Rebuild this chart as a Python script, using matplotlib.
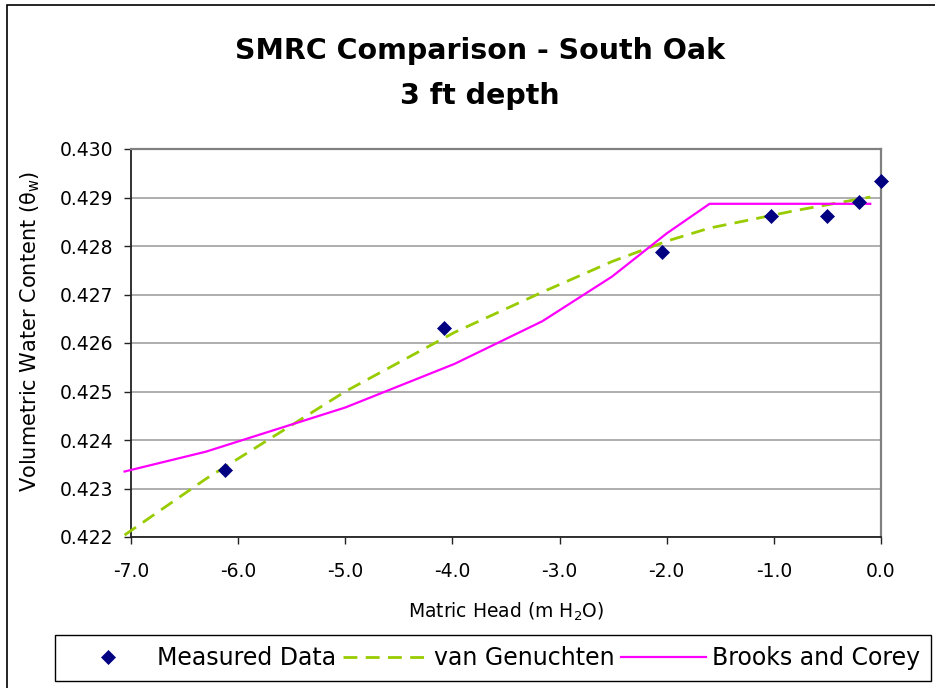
import matplotlib
matplotlib.use("Agg")
import matplotlib.pyplot as plt
from matplotlib.patches import Rectangle
from matplotlib.ticker import FormatStrFormatter, MultipleLocator

# measured soil moisture retention points
head_meas = [-6.12, -4.08, -2.04, -1.03, -0.50, -0.21, 0.0]
theta_meas = [0.42338, 0.42631, 0.42788, 0.42861, 0.42861, 0.42891, 0.42934]

# fitted model curves
head_fit = [-7.06, -6.30, -5.00, -3.98, -3.16, -2.51, -2.00, -1.60, -0.80, -0.10]
theta_vg = [0.42204, 0.42320, 0.42500, 0.42622, 0.42705, 0.42768, 0.42810, 0.42837, 0.42873, 0.42901]
theta_bc = [0.42335, 0.42376, 0.42467, 0.42557, 0.42645, 0.42737, 0.42826, 0.42887, 0.42887, 0.42887]

title_lines = ['SMRC Comparison - South Oak', '3 ft depth']

plt.rcParams['font.family'] = ['DejaVu Sans']

W, H = 935, 688
fig = plt.figure(figsize=(W / 100, H / 100), dpi=100)
ax = fig.add_axes([131 / W, 1 - 537 / H, 750 / W, 388 / H])

meas, = ax.plot(head_meas, theta_meas, linestyle='none', marker='D', ms=7.5,
                color='#000080', mec='#000080', mew=0.5, zorder=5, clip_on=False)
vg, = ax.plot(head_fit, theta_vg, color='#99CC00', lw=2, linestyle=(0, (5, 3)),
              zorder=3, clip_on=False)
bc, = ax.plot(head_fit, theta_bc, color='#FF00FF', lw=1.6, zorder=4, clip_on=False)

ax.set_xlim(-7, 0)
ax.set_ylim(0.422, 0.430)
ax.xaxis.set_major_locator(MultipleLocator(1.0))
ax.yaxis.set_major_locator(MultipleLocator(0.001))
ax.xaxis.set_major_formatter(FormatStrFormatter('%.1f'))
ax.yaxis.set_major_formatter(FormatStrFormatter('%.3f'))
ax.yaxis.grid(True, color='#999999', lw=1.1)
ax.set_axisbelow(True)

for side in ('left', 'bottom'):
    ax.spines[side].set_color('#222222')
    ax.spines[side].set_linewidth(1.3)
for side in ('top', 'right'):
    ax.spines[side].set_color('#808080')
    ax.spines[side].set_linewidth(1.6)

ax.tick_params(axis='both', direction='out', length=5, width=1, color='#222222',
               labelsize=13.5)
ax.tick_params(axis='x', pad=13)
ax.tick_params(axis='y', pad=8)

ax.set_xlabel('Matric Head (m H$_\\mathregular{2}$O)', fontsize=13.5, labelpad=14)
ax.set_ylabel('Volumetric Water Content (θ$_\\mathregular{w}$)', fontsize=15)
ax.yaxis.set_label_coords(-0.118, 0.53)

# two-line chart title
fig.text(480 / W, 1 - 51 / H, title_lines[0], ha='center', va='center',
         fontsize=20.5, fontweight='bold')
fig.text(480 / W, 1 - 96 / H, title_lines[1], ha='center', va='center',
         fontsize=20.5, fontweight='bold')

fig.legend([meas, vg, bc], ['Measured Data', 'van Genuchten', 'Brooks and Corey'],
           loc='center left', bbox_to_anchor=(55 / W, 1 - 658 / H), ncol=3,
           frameon=True, fancybox=False, edgecolor='black', framealpha=1,
           handlelength=3.6, handletextpad=0.25, columnspacing=0.3,
           borderpad=0.45, borderaxespad=0, fontsize=17, numpoints=1)

# outer chart border
fig.patches.append(Rectangle((7 / W, -0.05), 1.1, 1 - 5 / H + 0.05,
                             transform=fig.transFigure, fill=False,
                             edgecolor='black', lw=1.2))

fig.savefig('out.png', dpi=100)
